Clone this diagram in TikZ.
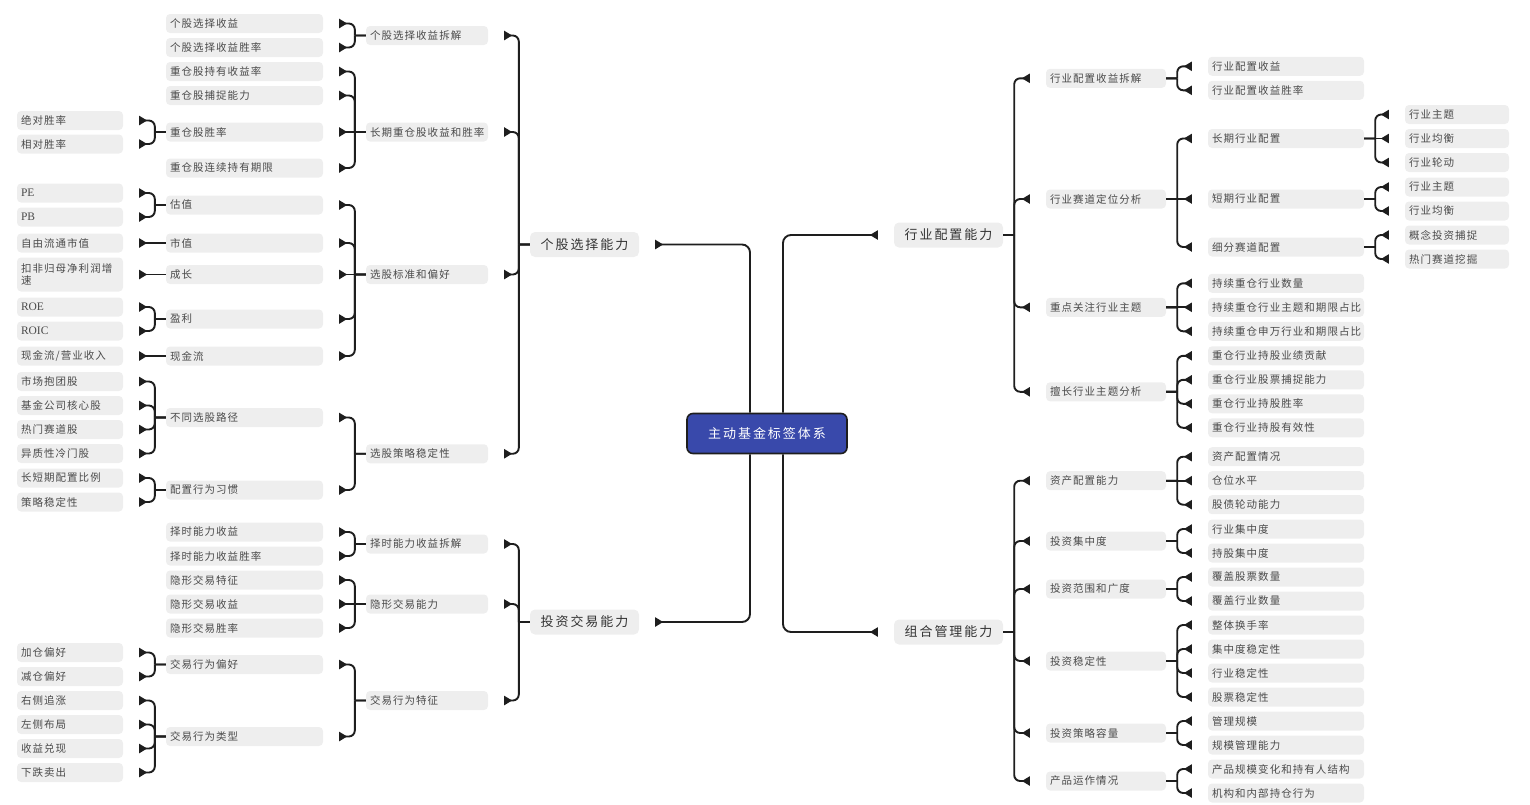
\documentclass[tikz,border=0pt]{standalone}
\usepackage{fontspec}
\usepackage{tikz}
\usetikzlibrary{arrows.meta}
\newfontfamily\cjk[LetterSpace=10]{Noto Sans CJK SC}
\newfontfamily\cjkwide[LetterSpace=15]{Noto Sans CJK SC}
\newfontfamily\latinserif{Liberation Serif}
\newcommand\tagfnt{\cjk\fontsize{10.5}{12}\selectfont}
\newcommand\topicfnt{\cjkwide\fontsize{13}{15}\selectfont}
\newcommand\lat[1]{{\latinserif\fontsize{11.5}{12}\selectfont #1}}
\definecolor{tagfill}{HTML}{EEEEEE}
\definecolor{tagtext}{HTML}{4A4A4A}
\definecolor{topictext}{HTML}{333333}
\definecolor{rootblue}{HTML}{3949AB}
\definecolor{linecol}{HTML}{1E1E1E}
\tikzset{
    tagbox/.style={fill=tagfill, rounded corners=4pt, inner xsep=4pt, inner ysep=0pt,
        minimum height=19pt, text=tagtext, font=\tagfnt, align=left},
    colA/.style={tagbox, text width=98pt},
    colB/.style={tagbox, text width=149pt},
    colC/.style={tagbox, text width=114pt},
    colD/.style={tagbox, text width=112pt},
    colE/.style={tagbox, text width=148pt},
    colF/.style={tagbox, text width=96pt},
    topicbox/.style={fill=tagfill, rounded corners=5pt, minimum width=109pt,
        minimum height=25pt, text=topictext, font=\topicfnt},
    centerbox/.style={fill=rootblue, draw=linecol, line width=1.6pt, rounded corners=6pt,
        minimum width=160pt, minimum height=40pt, text=white, font=\topicfnt},
    branch/.style={draw=linecol, line width=1.9pt, rounded corners=6pt, shorten >=16pt,
        -{Triangle[reversed,length=8pt,width=9pt]}},
    toL/.style={branch, to path={(\tikztostart.west) -- ([xshift=-11pt]\tikztostart.west)
        ([xshift=-11pt]\tikztostart.west) |- (\tikztotarget.east)}},
    toLs/.style={branch, to path={(\tikztostart.west) -- (\tikztotarget.east)}},
    toR/.style={branch, to path={(\tikztostart.east) -- ([xshift=11pt]\tikztostart.east)
        ([xshift=11pt]\tikztostart.east) |- (\tikztotarget.west)}},
    toRs/.style={branch, to path={(\tikztostart.east) -- (\tikztotarget.west)}},
    rootL/.style={branch, rounded corners=8pt, to path={([xshift=-17pt]\tikztostart.#1) |- (\tikztotarget.east)}},
    rootR/.style={branch, rounded corners=8pt, to path={([xshift=16pt]\tikztostart.#1) |- (\tikztotarget.west)}}
}
\begin{document}
\begin{tikzpicture}[x=1pt,y=-1pt]
        \useasboundingbox (0,0) rectangle (1530,804);
        % centre and main topics
        \node[centerbox] (root) at (767,433.5) {主动基金标签体系};
        \node[topicbox] (gg) at (584.5,244.5) {个股选择能力};
        \node[topicbox] (jy) at (584.5,622) {投资交易能力};
        \node[topicbox] (hy) at (948.5,235) {行业配置能力};
        \node[topicbox] (zh) at (948.5,632) {组合管理能力};
        \path (root) edge[rootL=north] (gg) edge[rootL=south] (jy)
            edge[rootR=north] (hy) edge[rootR=south] (zh);

        % left side, second level
        \node[colC] (a1) at (427,35.5) {个股选择收益拆解};
        \node[colC] (a2) at (427,132) {长期重仓股收益和胜率};
        \node[colC] (a3) at (427,274.5) {选股标准和偏好};
        \node[colC] (a4) at (427,453.75) {选股策略稳定性};
        \node[colC] (b1) at (427,544) {择时能力收益拆解};
        \node[colC] (b2) at (427,604) {隐形交易能力};
        \node[colC] (b3) at (427,700.5) {交易行为特征};
        \path (gg) edge[toL] (a1) edge[toL] (a2) edge[toL] (a3) edge[toL] (a4);
        \path (jy) edge[toL] (b1) edge[toL] (b2) edge[toL] (b3);

        % left side, third level
        \node[colB] (a11) at (244.5,23.5) {个股选择收益};
        \node[colB] (a12) at (244.5,47.5) {个股选择收益胜率};
        \node[colB] (a21) at (244.5,71.5) {重仓股持有收益率};
        \node[colB] (a22) at (244.5,95.5) {重仓股捕捉能力};
        \node[colB] (a23) at (244.5,132) {重仓股胜率};
        \node[colB] (a24) at (244.5,168) {重仓股连续持有期限};
        \node[colB] (a31) at (244.5,205) {估值};
        \node[colB] (a32) at (244.5,243) {市值};
        \node[colB] (a33) at (244.5,274.5) {成长};
        \node[colB] (a34) at (244.5,319) {盈利};
        \node[colB] (a35) at (244.5,356) {现金流};
        \node[colB] (a41) at (244.5,417.5) {不同选股路径};
        \node[colB] (a42) at (244.5,490) {配置行为习惯};
        \node[colB] (b11) at (244.5,532) {择时能力收益};
        \node[colB] (b12) at (244.5,556) {择时能力收益胜率};
        \node[colB] (b21) at (244.5,580) {隐形交易特征};
        \node[colB] (b22) at (244.5,604) {隐形交易收益};
        \node[colB] (b23) at (244.5,628) {隐形交易胜率};
        \node[colB] (b31) at (244.5,664.5) {交易行为偏好};
        \node[colB] (b32) at (244.5,736.5) {交易行为类型};
        \path (a1) edge[toL] (a11) edge[toL] (a12);
        \path (a2) edge[toL] (a21) edge[toL] (a22) edge[toLs] (a23) edge[toL] (a24);
        \path (a3) edge[toL] (a31) edge[toL] (a32) edge[toLs] (a33) edge[toL] (a34) edge[toL] (a35);
        \path (a4) edge[toL] (a41) edge[toL] (a42);
        \path (b1) edge[toL] (b11) edge[toL] (b12);
        \path (b2) edge[toL] (b21) edge[toLs] (b22) edge[toL] (b23);
        \path (b3) edge[toL] (b31) edge[toL] (b32);

        % left side, fourth level
        \node[colA] (a231) at (70,120.5) {绝对胜率};
        \node[colA] (a232) at (70,144) {相对胜率};
        \node[colA] (a311) at (70,193) {\lat{PE}};
        \node[colA] (a312) at (70,217) {\lat{PB}};
        \node[colA] (a321) at (70,243) {自由流通市值};
        \node[colA, minimum height=34pt] (a331) at (70,274.5) {扣非归母净利润增\\速};
        \node[colA] (a341) at (70,307) {\lat{ROE}};
        \node[colA] (a342) at (70,331) {\lat{ROIC}};
        \node[colA] (a351) at (70,356) {现金流/营业收入};
        \node[colA] (a411) at (70,381.5) {市场抱团股};
        \node[colA] (a412) at (70,405.5) {基金公司核心股};
        \node[colA] (a413) at (70,429.5) {热门赛道股};
        \node[colA] (a414) at (70,453.5) {异质性冷门股};
        \node[colA] (a421) at (70,478) {长短期配置比例};
        \node[colA] (a422) at (70,502) {策略稳定性};
        \node[colA] (b311) at (70,652.5) {加仓偏好};
        \node[colA] (b312) at (70,676.5) {减仓偏好};
        \node[colA] (b321) at (70,700.5) {右侧追涨};
        \node[colA] (b322) at (70,724.5) {左侧布局};
        \node[colA] (b323) at (70,748.5) {收益兑现};
        \node[colA] (b324) at (70,772.5) {下跌卖出};
        \path (a23) edge[toL] (a231) edge[toL] (a232);
        \path (a31) edge[toL] (a311) edge[toL] (a312);
        \path (a32) edge[toLs] (a321);
        \path (a33) edge[toLs] (a331);
        \path (a34) edge[toL] (a341) edge[toL] (a342);
        \path (a35) edge[toLs] (a351);
        \path (a41) edge[toL] (a411) edge[toL] (a412) edge[toL] (a413) edge[toL] (a414);
        \path (a42) edge[toL] (a421) edge[toL] (a422);
        \path (b31) edge[toL] (b311) edge[toL] (b312);
        \path (b32) edge[toL] (b321) edge[toL] (b322) edge[toL] (b323) edge[toL] (b324);

        % right side, second level
        \node[colD] (c1) at (1106,78.3) {行业配置收益拆解};
        \node[colD] (c2) at (1106,199) {行业赛道定位分析};
        \node[colD] (c3) at (1106,307.3) {重点关注行业主题};
        \node[colD] (c4) at (1106,391.8) {擅长行业主题分析};
        \node[colD] (d1) at (1106,480.7) {资产配置能力};
        \node[colD] (d2) at (1106,541) {投资集中度};
        \node[colD] (d3) at (1106,589) {投资范围和广度};
        \node[colD] (d4) at (1106,661) {投资稳定性};
        \node[colD] (d5) at (1106,733) {投资策略容量};
        \node[colD] (d6) at (1106,781) {产品运作情况};
        \path (hy) edge[toR] (c1) edge[toR] (c2) edge[toR] (c3) edge[toR] (c4);
        \path (zh) edge[toR] (d1) edge[toR] (d2) edge[toR] (d3) edge[toR] (d4)
            edge[toR] (d5) edge[toR] (d6);

        % right side, third level
        \node[colE] (c11) at (1286,66.3) {行业配置收益};
        \node[colE] (c12) at (1286,90.3) {行业配置收益胜率};
        \node[colE] (c21) at (1286,138.5) {长期行业配置};
        \node[colE] (c22) at (1286,199) {短期行业配置};
        \node[colE] (c23) at (1286,247) {细分赛道配置};
        \node[colE] (c31) at (1286,283.3) {持续重仓行业数量};
        \node[colE] (c32) at (1286,307.3) {持续重仓行业主题和期限占比};
        \node[colE] (c33) at (1286,331.3) {持续重仓申万行业和期限占比};
        \node[colE] (c41) at (1286,355.8) {重仓行业持股业绩贡献};
        \node[colE] (c42) at (1286,379.8) {重仓行业股票捕捉能力};
        \node[colE] (c43) at (1286,403.8) {重仓行业持股胜率};
        \node[colE] (c44) at (1286,427.8) {重仓行业持股有效性};
        \node[colE] (d11) at (1286,456.7) {资产配置情况};
        \node[colE] (d12) at (1286,480.7) {仓位水平};
        \node[colE] (d13) at (1286,504.7) {股债轮动能力};
        \node[colE] (d21) at (1286,529) {行业集中度};
        \node[colE] (d22) at (1286,553) {持股集中度};
        \node[colE] (d31) at (1286,577) {覆盖股票数量};
        \node[colE] (d32) at (1286,601) {覆盖行业数量};
        \node[colE] (d41) at (1286,625) {整体换手率};
        \node[colE] (d42) at (1286,649) {集中度稳定性};
        \node[colE] (d43) at (1286,673) {行业稳定性};
        \node[colE] (d44) at (1286,697) {股票稳定性};
        \node[colE] (d51) at (1286,721) {管理规模};
        \node[colE] (d52) at (1286,745) {规模管理能力};
        \node[colE] (d61) at (1286,769) {产品规模变化和持有人结构};
        \node[colE] (d62) at (1286,793) {机构和内部持仓行为};
        \path (c1) edge[toR] (c11) edge[toR] (c12);
        \path (c2) edge[toR] (c21) edge[toRs] (c22) edge[toR] (c23);
        \path (c3) edge[toR] (c31) edge[toRs] (c32) edge[toR] (c33);
        \path (c4) edge[toR] (c41) edge[toR] (c42) edge[toR] (c43) edge[toR] (c44);
        \path (d1) edge[toR] (d11) edge[toRs] (d12) edge[toR] (d13);
        \path (d2) edge[toR] (d21) edge[toR] (d22);
        \path (d3) edge[toR] (d31) edge[toR] (d32);
        \path (d4) edge[toR] (d41) edge[toR] (d42) edge[toR] (d43) edge[toR] (d44);
        \path (d5) edge[toR] (d51) edge[toR] (d52);
        \path (d6) edge[toR] (d61) edge[toR] (d62);

        % right side, fourth level
        \node[colF] (c211) at (1457,114.5) {行业主题};
        \node[colF] (c212) at (1457,138.5) {行业均衡};
        \node[colF] (c213) at (1457,162.5) {行业轮动};
        \node[colF] (c221) at (1457,187) {行业主题};
        \node[colF] (c222) at (1457,211) {行业均衡};
        \node[colF] (c231) at (1457,235) {概念投资捕捉};
        \node[colF] (c232) at (1457,259) {热门赛道挖掘};
        \path (c21) edge[toR] (c211) edge[toRs] (c212) edge[toR] (c213);
        \path (c22) edge[toR] (c221) edge[toR] (c222);
        \path (c23) edge[toR] (c231) edge[toR] (c232);
\end{tikzpicture}
\end{document}
